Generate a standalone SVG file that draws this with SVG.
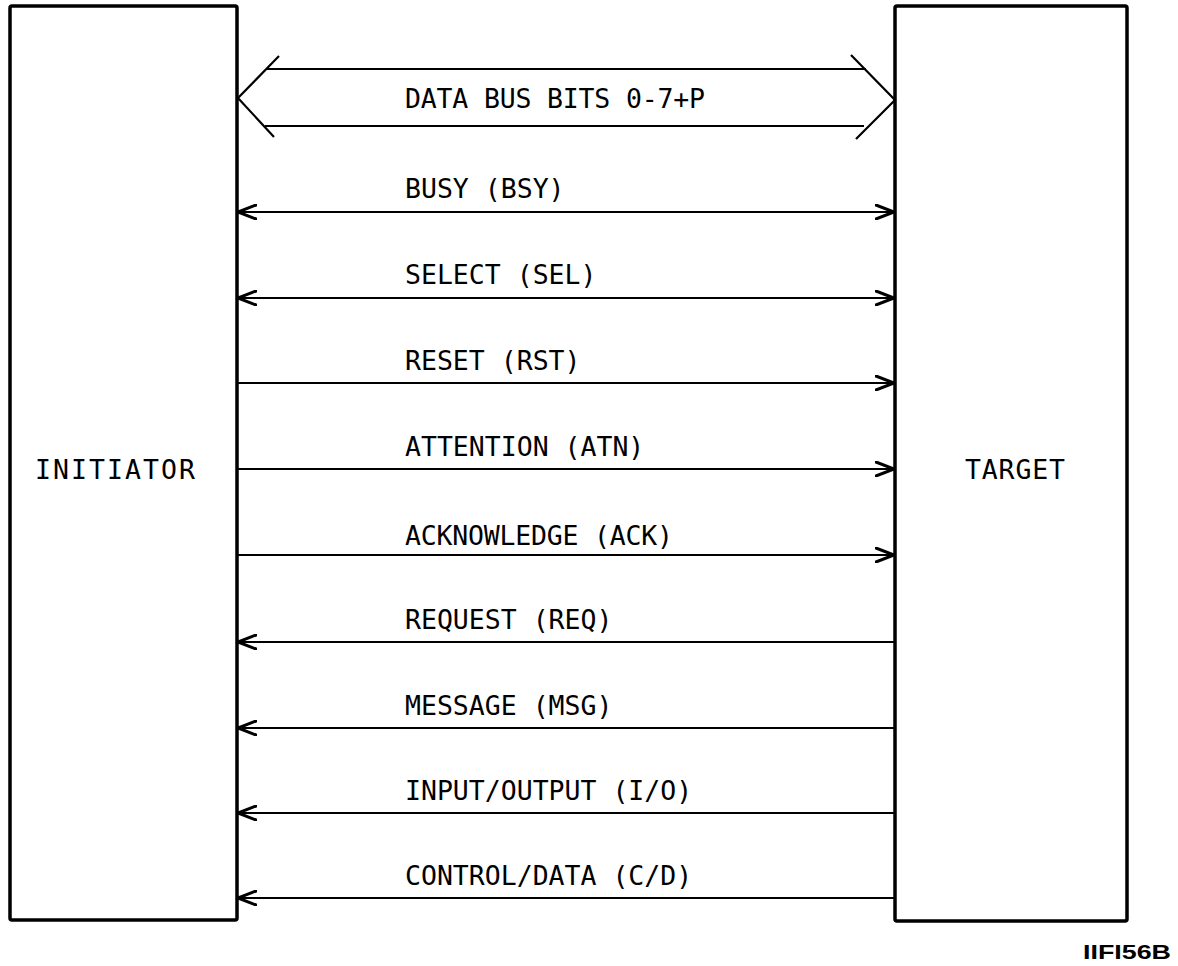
<svg xmlns="http://www.w3.org/2000/svg" width="1178" height="966" viewBox="0 0 1178 966">
<style>
.box{fill:none;stroke:#000;stroke-width:3.5;stroke-linejoin:round}
.ln{fill:none;stroke:#000;stroke-width:2.2}
.lbl{font-family:"DejaVu Sans Mono","Liberation Mono",monospace;font-size:26.5px;fill:#000}
.nm{font-family:"DejaVu Sans Mono","Liberation Mono",monospace;font-size:26.5px;fill:#000}
.fig{font-family:"Liberation Sans",Arial,sans-serif;font-weight:bold;font-size:21px;fill:#000}
</style>
<defs>
<marker id="ah" viewBox="0 0 20 16" refX="19" refY="8" markerWidth="20" markerHeight="16" markerUnits="userSpaceOnUse" orient="auto-start-reverse">
<path d="M1,1 L19,8 L1,15" fill="none" stroke="#000" stroke-width="3" stroke-linecap="round"/>
</marker>
</defs>
<g id="initiator">
<rect class="box" x="10" y="6" width="227" height="914" rx="2"/>
<text class="nm" x="35" y="479" textLength="160" lengthAdjust="spacing">INITIATOR</text>
</g>
<g id="target">
<rect class="box" x="895" y="6" width="232" height="915" rx="2"/>
<text class="nm" x="965" y="479" textLength="100" lengthAdjust="spacing">TARGET</text>
</g>
<g id="connectors">
<g id="databus">
<path class="ln" d="M279,56 L238,98 L274,137" stroke-width="3.2"/>
<path class="ln" d="M851,55 L895,100 L856,139" stroke-width="3.2"/>
<line class="ln" x1="267" y1="69" x2="866" y2="69"/>
<line class="ln" x1="265" y1="126" x2="864" y2="126"/>
<text class="lbl" x="405" y="108" textLength="300" lengthAdjust="spacing">DATA BUS BITS 0-7+P</text>
</g>
<g id="bsy">
<line class="ln" x1="238" y1="212" x2="894" y2="212" marker-start="url(#ah)" marker-end="url(#ah)"/>
<text class="lbl" x="405" y="198">BUSY (BSY)</text>
</g>
<g id="sel">
<line class="ln" x1="238" y1="298" x2="894" y2="298" marker-start="url(#ah)" marker-end="url(#ah)"/>
<text class="lbl" x="405" y="284">SELECT (SEL)</text>
</g>
<g id="rst">
<line class="ln" x1="238" y1="383" x2="894" y2="383" marker-end="url(#ah)"/>
<text class="lbl" x="405" y="370">RESET (RST)</text>
</g>
<g id="atn">
<line class="ln" x1="238" y1="469" x2="894" y2="469" marker-end="url(#ah)"/>
<text class="lbl" x="405" y="456">ATTENTION (ATN)</text>
</g>
<g id="ack">
<line class="ln" x1="238" y1="555" x2="894" y2="555" marker-end="url(#ah)"/>
<text class="lbl" x="405" y="545" textLength="268" lengthAdjust="spacing">ACKNOWLEDGE (ACK)</text>
</g>
<g id="req">
<line class="ln" x1="238" y1="642" x2="894" y2="642" marker-start="url(#ah)"/>
<text class="lbl" x="405" y="629">REQUEST (REQ)</text>
</g>
<g id="msg">
<line class="ln" x1="238" y1="728" x2="894" y2="728" marker-start="url(#ah)"/>
<text class="lbl" x="405" y="715">MESSAGE (MSG)</text>
</g>
<g id="io">
<line class="ln" x1="238" y1="813" x2="894" y2="813" marker-start="url(#ah)"/>
<text class="lbl" x="405" y="800">INPUT/OUTPUT (I/O)</text>
</g>
<g id="cd">
<line class="ln" x1="238" y1="898" x2="894" y2="898" marker-start="url(#ah)"/>
<text class="lbl" x="405" y="885">CONTROL/DATA (C/D)</text>
</g>
</g>
<text class="fig" x="1083" y="959" textLength="88" lengthAdjust="spacingAndGlyphs">IIFI56B</text>
</svg>
